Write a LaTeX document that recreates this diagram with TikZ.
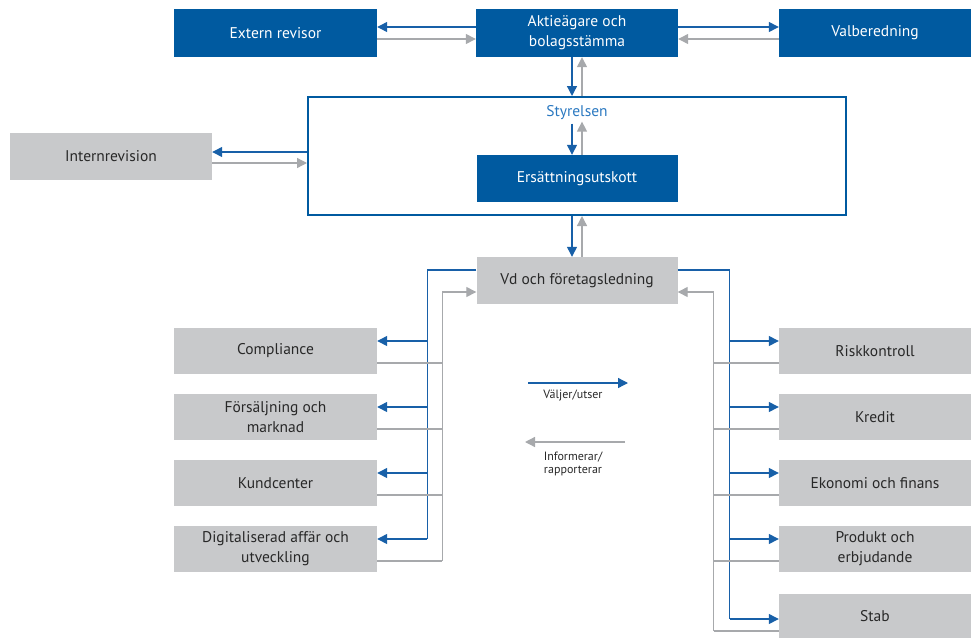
\documentclass[tikz,border=0pt]{standalone}
\usepackage{fontspec}
\setmainfont{PT Sans}
\usepackage{tikz}
\usetikzlibrary{calc}
\usetikzlibrary{shapes,arrows,arrows.meta}

\definecolor{sebblue}{RGB}{0,90,160}
\definecolor{linkblue}{RGB}{24,96,168}
\definecolor{boxgray}{RGB}{200,201,203}
\definecolor{linkgray}{RGB}{167,169,172}
\definecolor{txtgray}{RGB}{40,40,40}
\definecolor{lblblue}{RGB}{42,120,192}

\tikzset{
    boxfont/.style={font=\fontsize{15.5}{20}\selectfont},
    bluebox/.style={boxfont,fill=sebblue,text=white,minimum width=203pt,minimum height=48pt,inner sep=0pt,align=center},
    graybox/.style={boxfont,fill=boxgray,text=txtgray,minimum width=203pt,minimum height=46pt,inner sep=0pt,align=center},
    rightbox/.style={graybox,minimum width=192pt},
    bline/.style={draw=linkblue,line width=1.3pt},
    gline/.style={draw=linkgray,line width=1.3pt},
    legend/.style={font=\fontsize{12}{13}\selectfont,text=txtgray,align=center,inner sep=0pt},
    >={Triangle[length=10pt,width=10pt]}
}

\begin{document}
\begin{tikzpicture}[x=1pt,y=-1pt]
    \useasboundingbox (0,0) rectangle (971,637);
    % top row
    \node[bluebox] (extern) at (275.5,33) {Extern revisor};
    \node[bluebox,minimum width=202pt] (aktie) at (577,33) {Aktieägare och\\bolagsstämma};
    \node[bluebox,minimum width=192pt] (valb) at (875,33) {Valberedning};
    % board
    \node[draw=sebblue,line width=2pt,minimum width=538pt,minimum height=118pt] (styr) at (577,156) {};
    \node[boxfont,text=lblblue] (styrtext) at (577,113) {Styrelsen};
    \node[bluebox,minimum width=201pt,minimum height=47pt] (ersatt) at (577,178.5) {Ersättningsutskott};
    \node[graybox,minimum width=202pt,minimum height=47pt] (intern) at (111,156) {Internrevision};
    \node[graybox,minimum width=201pt,minimum height=47pt] (vd) at (577,280.5) {Vd och företagsledning};
    % left column
    \node[graybox] (comp) at (275.5,351) {Compliance};
    \node[graybox] (fors) at (275.5,417) {Försäljning och\\marknad};
    \node[graybox] (kund) at (275.5,483) {Kundcenter};
    \node[graybox] (digi) at (275.5,549) {Digitaliserad affär och\\utveckling};
    % right column
    \node[rightbox] (risk) at (875,351) {Riskkontroll};
    \node[rightbox] (kredit) at (875,417) {Kredit};
    \node[rightbox] (ekon) at (875,483) {Ekonomi och finans};
    \node[rightbox] (prod) at (875,549) {Produkt och\\erbjudande};
    \node[rightbox,minimum height=44pt] (stab) at (875,616) {Stab};

    \draw[bline,->] ($(aktie.west)+(0,-6)$) -- ($(extern.east)+(0,-6)$);
    \draw[gline,->] ($(extern.east)+(0,6)$) -- ($(aktie.west)+(0,6)$);
    \draw[bline,->] ($(aktie.east)+(0,-6)$) -- ($(valb.west)+(0,-6)$);
    \draw[gline,->] ($(valb.west)+(0,6)$) -- ($(aktie.east)+(0,6)$);
    \draw[bline,->] ($(aktie.south)+(-5,0)$) -- ($(styr.north)+(-5,0)$);
    \draw[gline,->] ($(styr.north)+(5,0)$) -- ($(aktie.south)+(5,0)$);
    \draw[bline,->] ($(styrtext.south)+(-5,0)$) -- ($(ersatt.north)+(-5,0)$);
    \draw[gline,->] ($(ersatt.north)+(5,0)$) -- ($(styrtext.south)+(5,-2)$);
    \draw[bline,->] ($(styr.west)+(0,-4)$) -- ($(intern.east)+(0,-4)$);
    \draw[gline,->] ($(intern.east)+(0,7)$) -- ($(styr.west)+(0,7)$);
    \draw[bline,->] ($(styr.south)+(-5,0)$) -- ($(vd.north)+(-5,0)$);
    \draw[gline,->] ($(vd.north)+(5,0)$) -- ($(styr.south)+(5,0)$);

    % vd to the left column
    \draw[bline] ($(vd.west)+(0,-10.5)$) -| ($(digi.east)+(50,-10)$);
    \draw[gline,->] ($(digi.east)+(65,12)$) |- ($(vd.west)+(0,11.5)$);
    \foreach \n in {comp,fors,kund,digi}{
        \draw[bline,->] ($(\n.east)+(50,-10)$) -- ($(\n.east)+(0,-10)$);
        \draw[gline] ($(\n.east)+(0,12)$) -- ($(\n.east)+(65,12)$);
    }
    % vd to the right column
    \draw[bline] ($(vd.east)+(0,-10.5)$) -| ($(stab.west)+(-49,3)$);
    \draw[gline,->] ($(stab.west)+(-65,15)$) |- ($(vd.east)+(0,11.5)$);
    \foreach \n in {risk,kredit,ekon,prod}{
        \draw[bline,->] ($(\n.west)+(-49,-10)$) -- ($(\n.west)+(0,-10)$);
        \draw[gline] ($(\n.west)+(0,12)$) -- ($(\n.west)+(-65,12)$);
    }
    \draw[bline,->] ($(stab.west)+(-49,3)$) -- ($(stab.west)+(0,3)$);
    \draw[gline] ($(stab.west)+(0,15)$) -- ($(stab.west)+(-65,15)$);

    % legend
    \coordinate (legA) at (528,383);
    \coordinate (legB) at (628,383);
    \coordinate (legC) at (625,442);
    \coordinate (legD) at (525,442);
    \draw[bline,->] (legA) -- (legB);
    \draw[gline,->] (legC) -- (legD);
    \node[legend] (valjer) at (573,395) {Väljer/utser};
    \node[legend] (inform) at (573,464) {Informerar/\\rapporterar};
\end{tikzpicture}
\end{document}
